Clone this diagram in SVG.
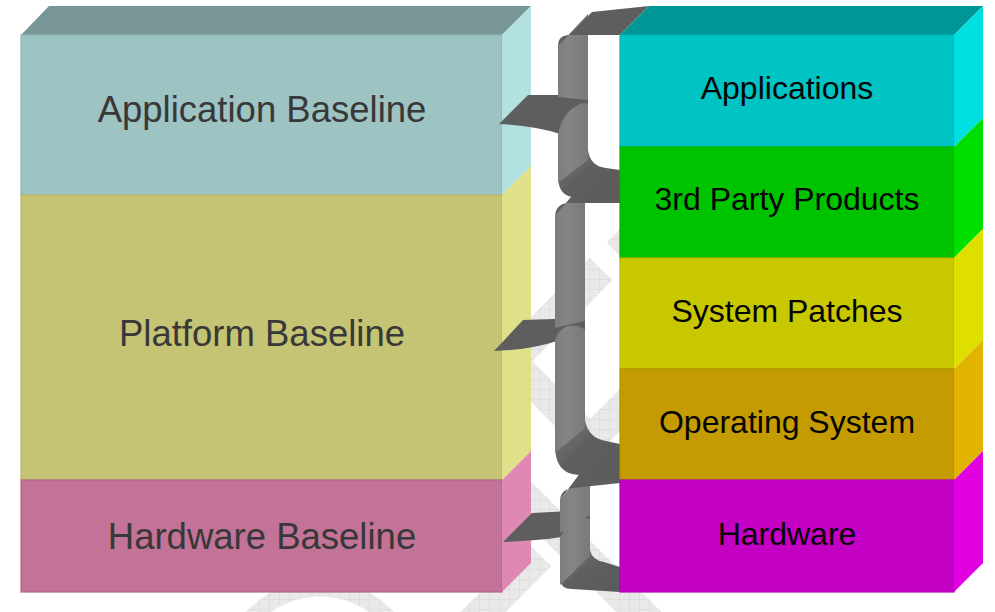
<svg xmlns="http://www.w3.org/2000/svg" width="995" height="612" viewBox="0 0 995 612">
  <defs>
    <pattern id="grid" width="10" height="10" patternUnits="userSpaceOnUse">
      <rect width="10" height="10" fill="#e9e9e9"/>
      <path d="M10 0V10H0" fill="none" stroke="#d6d6d6" stroke-width="1"/>
    </pattern>
    <linearGradient id="stripG" x1="0" y1="0" x2="1" y2="0">
      <stop offset="0" stop-color="#7c7c7c"/>
      <stop offset="0.35" stop-color="#858585"/>
      <stop offset="1" stop-color="#7a7a7a"/>
    </linearGradient>
    <linearGradient id="hookG" x1="0" y1="0" x2="1" y2="1">
      <stop offset="0" stop-color="#7a7a7a"/>
      <stop offset="0.45" stop-color="#5f5f5f"/>
      <stop offset="1" stop-color="#5a5a5a"/>
    </linearGradient>
    <style>
      .lbl { font-family: "Liberation Sans", Arial, sans-serif; text-anchor: middle; }
      .left { font-size: 36.5px; fill: #383838; }
      .right { font-size: 32px; fill: #050505; }
      .dark { fill: #5e5e5e; }
      .strip { fill: url(#stripG); }
      .hook { fill: url(#hookG); }
      .wm { fill: none; stroke: url(#grid); }
    </style>
  </defs>

  <rect width="995" height="612" fill="#ffffff"/>

  <!-- watermark fragments -->
  <g id="watermark">
    <path class="wm" d="M440,432 L601,269" stroke-width="32"/>
    <polygon points="607,242 625,224 625,262" fill="url(#grid)"/>
    <path class="wm" d="M480,330 L590,440 L650,380" stroke-width="30" stroke-linejoin="miter"/>
    <path class="wm" d="M505,478 L655,628" stroke-width="32"/>
    <path class="wm" d="M455,640 L540,555" stroke-width="32"/>
    <circle class="wm" cx="320" cy="680" r="92" stroke-width="17"/>
  </g>

  <!-- left stack -->
  <g id="left-top">
    <polygon points="21,35 49,6 531,6 502,35" fill="#789696"/>
  </g>
  <g id="application-baseline">
    <rect x="21" y="35" width="481" height="160" fill="#9dc3c3" stroke="#90b6b6" stroke-width="1.2"/>
    <polygon points="502,35 531,6 531,166 502,195" fill="#b3e0e0"/>
    <text class="lbl left" x="262" y="122">Application Baseline</text>
  </g>
  <g id="platform-baseline">
    <rect x="21" y="195" width="481" height="285" fill="#c4c474" stroke="#b6b66a" stroke-width="1.2"/>
    <polygon points="502,195 531,166 531,451 502,480" fill="#e0e08a"/>
    <text class="lbl left" x="262" y="346">Platform Baseline</text>
  </g>
  <g id="hardware-baseline">
    <rect x="21" y="480" width="481" height="112" fill="#c27397" stroke="#b3678a" stroke-width="1.2"/>
    <polygon points="502,480 531,451 531,563 502,592" fill="#df88b3"/>
    <text class="lbl left" x="262" y="549">Hardware Baseline</text>
  </g>

  <!-- connectors: 3D curly braces -->
  <g id="connectors">
    <g id="brace-3">
      <path class="hook" d="M560,580 Q561,589 572,589 L620,592 L620,567 L604,562 Q592,560 590,550 Z"/>
      <path class="dark" d="M503,542 L532,513 L590,510 L590,520 L562,537 Q535,541 503,542 Z"/>
      <path class="strip" d="M560,500 L590,462 L590,515 L560,533 Z"/>
      <path class="strip" d="M560,538 Q564,526 578,520 Q586,517 590,519 L590,556 L560,585 Z"/>
      <path class="dark" d="M560,500 Q561,489 573,488 L620,483 L650,453 L590,460 Z"/>
    </g>
    <g id="brace-2">
      <path class="hook" d="M555,448 Q556,470 572,474 L620,481 L620,444 L606,441 Q588,438 585,420 Z"/>
      <path class="dark" d="M494,351 L523,320 L585,318 L585,332 L557,341 Q530,350 494,351 Z"/>
      <path class="strip" d="M555,216 L585,180 L585,321 L555,328 Z"/>
      <path class="strip" d="M555,341 Q557,330 568,326 Q578,324 585,330 L585,428 L555,453 Z"/>
      <path class="dark" d="M555,216 Q556,203 570,203 L620,203 L650,173 L588,178 Z"/>
    </g>
    <g id="brace-1">
      <path class="hook" d="M558,178 Q559,195 572,197 L620,200 L620,170 L606,168 Q590,166 588,150 Z"/>
      <path class="dark" d="M499,124 L528,95 L588,95 L588,112 L560,134 Q535,126 499,124 Z"/>
      <path class="strip" d="M558,46 L588,14 L588,100 L558,97 Z"/>
      <path class="strip" d="M558,134 Q562,112 580,104 Q586,102 588,104 L588,160 L558,183 Z"/>
      <path class="dark" d="M558,46 Q558,35 570,35 L620,35 L649,6 L592,12 Z"/>
    </g>
  </g>

  <!-- right stack -->
  <g id="right-top">
    <polygon points="620,35 649,6 983,6 954,35" fill="#009696"/>
  </g>
  <g id="applications">
    <rect x="620" y="35" width="334" height="112" fill="#00c3c3" stroke="#00b3b3" stroke-width="1.2"/>
    <polygon points="954,35 983,6 983,118 954,147" fill="#00e0e0"/>
    <text class="lbl right" x="787" y="99">Applications</text>
  </g>
  <g id="third-party-products">
    <rect x="620" y="147" width="334" height="111" fill="#00c300" stroke="#00b300" stroke-width="1.2"/>
    <polygon points="954,147 983,118 983,229 954,258" fill="#00e000"/>
    <text class="lbl right" x="787" y="210">3rd Party Products</text>
  </g>
  <g id="system-patches">
    <rect x="620" y="258" width="334" height="111" fill="#c8c800" stroke="#b9b900" stroke-width="1.2"/>
    <polygon points="954,258 983,229 983,340 954,369" fill="#e0e000"/>
    <text class="lbl right" x="787" y="322">System Patches</text>
  </g>
  <g id="operating-system">
    <rect x="620" y="369" width="334" height="111" fill="#c49b00" stroke="#b58f00" stroke-width="1.2"/>
    <polygon points="954,369 983,340 983,451 954,480" fill="#e0b400"/>
    <text class="lbl right" x="787" y="433">Operating System</text>
  </g>
  <g id="hardware">
    <rect x="620" y="480" width="334" height="112" fill="#c400c4" stroke="#b400b4" stroke-width="1.2"/>
    <polygon points="954,480 983,451 983,563 954,592" fill="#e000e0"/>
    <text class="lbl right" x="787" y="545">Hardware</text>
  </g>
</svg>
